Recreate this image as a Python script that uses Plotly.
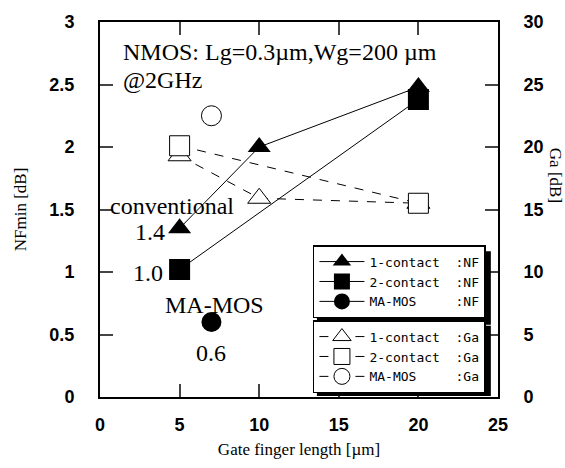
import plotly.graph_objects as go

# ---- data ----
x_nf1 = [5, 10, 20]
nf1 = [1.35, 2.0, 2.48]
x_nf2 = [5, 20]
nf2 = [1.02, 2.38]
x_nf_ma = [7]
nf_ma = [0.6]

x_ga1 = [5, 10, 20]
ga1 = [19.3, 15.9, 15.5]
x_ga2 = [5, 20]
ga2 = [20.1, 15.5]
x_ga_ma = [7]
ga_ma = [22.5]

serif = "Liberation Serif"
sans = "Liberation Sans"
mono = "DejaVu Sans Mono"

fig = go.Figure()

def nf_trace(x, y, sym, name, size):
    return go.Scatter(x=x, y=y, mode="lines+markers", name=name,
                      line=dict(color="black", width=1),
                      marker=dict(symbol=sym, size=size, color="black"),
                      legend="legend", yaxis="y")

def ga_trace(x, y, sym, name, size):
    return go.Scatter(x=x, y=y, mode="lines+markers", name=name,
                      line=dict(color="black", width=1, dash="dash"),
                      marker=dict(symbol=sym, size=size, color="white",
                                  line=dict(color="black", width=1)),
                      legend="legend2", yaxis="y2")

fig.add_trace(ga_trace(x_ga1, ga1, "triangle-up", "1-contact  :Ga", 20))
fig.add_trace(ga_trace(x_ga2, ga2, "square", "2-contact  :Ga", 20))
fig.add_trace(ga_trace(x_ga_ma, ga_ma, "circle", "MA-MOS     :Ga", 20))
fig.add_trace(nf_trace(x_nf1, nf1, "triangle-up", "1-contact  :NF", 20))
fig.add_trace(nf_trace(x_nf2, nf2, "square", "2-contact  :NF", 21))
fig.add_trace(nf_trace(x_nf_ma, nf_ma, "circle", "MA-MOS     :NF", 20))

# text annotations
texts = [
    ("NMOS: Lg=0.3µm,Wg=200 µm", 1.3, 2.76, "left"),
    ("@2GHz", 1.3, 2.54, "left"),
    ("conventional", 4.55, 1.53, "center"),
    ("1.4", 3.15, 1.32, "center"),
    ("1.0", 3.0, 0.99, "center"),
    ("MA-MOS", 7.2, 0.74, "center"),
    ("0.6", 7.0, 0.35, "center"),
]
for t, x, y, anc in texts:
    fig.add_annotation(x=x, y=y, xref="x", yref="y", text=t, showarrow=False,
                       xanchor=anc, yanchor="middle",
                       font=dict(family=serif, size=24, color="black"))

fig.add_annotation(x=1.143, y=0.59, xref="paper", yref="paper", text="Ga [dB]",
                   textangle=90, showarrow=False, xanchor="center", yanchor="middle",
                   font=dict(family=serif, size=17, color="black"))

# legend drop shadows (decoration)
for (x0, y0, x1, y1) in [(0.545, 0.193, 0.982, 0.389), (0.545, 0.003, 0.982, 0.19)]:
    fig.add_shape(type="rect", xref="paper", yref="paper",
                  x0=x0, y0=y0, x1=x1, y1=y1,
                  fillcolor="black", line=dict(width=0), layer="above")

tickfont = dict(family=sans, size=18, color="black", weight="bold")

fig.update_layout(
    width=565, height=468,
    margin=dict(l=100, r=67, t=14, b=71),
    paper_bgcolor="white", plot_bgcolor="white",
    xaxis=dict(range=[0, 25], dtick=5, ticks="inside", ticklen=13, tickwidth=1.5,
               showline=True, linewidth=2, linecolor="black", mirror="ticks",
               showgrid=False, zeroline=False, tickfont=tickfont,
               ticklabelstandoff=10,
               title=dict(text="Gate finger length [µm]",
                          font=dict(family=serif, size=17, color="black"), standoff=10)),
    yaxis=dict(range=[0, 3], dtick=0.5, ticks="inside", ticklen=13, tickwidth=1.5,
               showline=True, linewidth=2, linecolor="black",
               showgrid=False, zeroline=False, tickfont=tickfont,
               ticklabelstandoff=20,
               title=dict(text="NFmin [dB]",
                          font=dict(family=serif, size=17, color="black"), standoff=18)),
    yaxis2=dict(range=[0, 30], dtick=5, ticks="inside", ticklen=13, tickwidth=1.5,
                overlaying="y", side="right",
                showline=True, linewidth=2, linecolor="black",
                showgrid=False, zeroline=False, tickfont=tickfont,
                ticklabelstandoff=20),
    legend=dict(x=0.535, y=0.405, xanchor="left", yanchor="top",
                bgcolor="white", bordercolor="black", borderwidth=1.5,
                font=dict(family=mono, size=13, color="black"),
                traceorder="normal", itemwidth=45),
    legend2=dict(x=0.535, y=0.205, xanchor="left", yanchor="top",
                 bgcolor="white", bordercolor="black", borderwidth=1.5,
                 font=dict(family=mono, size=13, color="black"),
                 traceorder="normal", itemwidth=45),
    showlegend=True,
)

fig.write_html("out.html")
